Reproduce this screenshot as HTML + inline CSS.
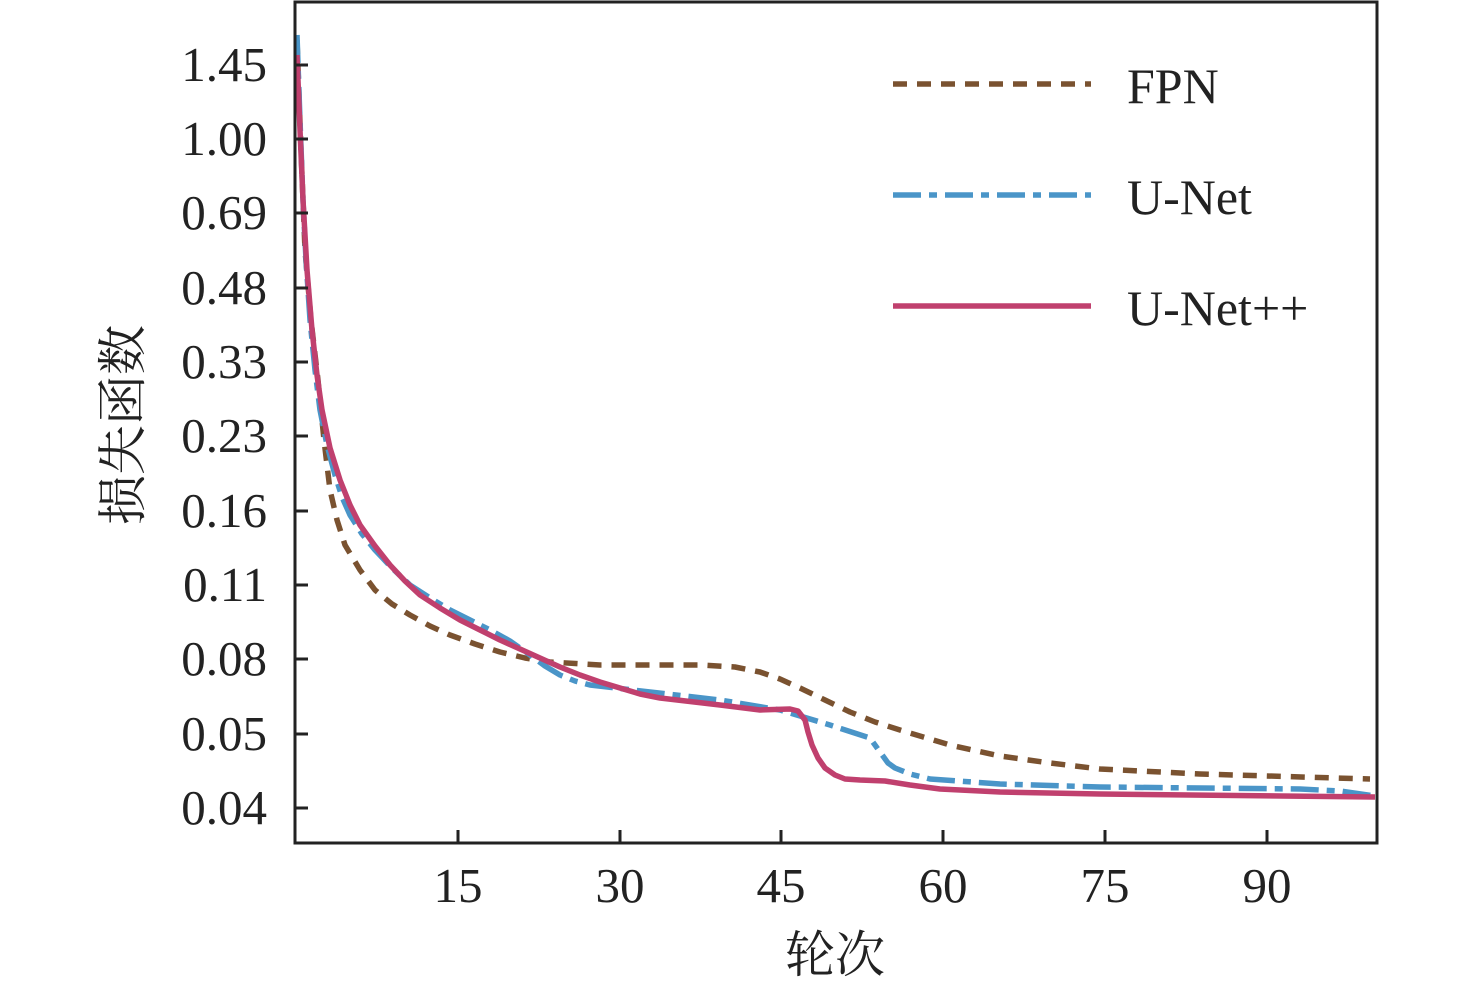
<!DOCTYPE html>
<html><head><meta charset="utf-8"><style>
html,body{margin:0;padding:0;background:#fff;}
svg{display:block;}
text{font-family:"Liberation Serif","Noto Serif CJK SC",serif;fill:#222;}
</style></head><body>
<svg width="1476" height="987" viewBox="0 0 1476 987" xmlns="http://www.w3.org/2000/svg">
<g fill="none" stroke-linejoin="round" stroke-linecap="butt">
<path stroke="#7a5230" stroke-width="5.5" stroke-dasharray="14,10" d="M297,40 L301,150 L305,250 L311,320 L318,380 L324,440 L330,490 L337,520 L345,545 L360,570 L375,590 L392,604 L410,615 L430,626 L450,635 L475,644 L500,652 L525,658 L550,662 L600,665 L700,665 L735,667 L760,672 L780,679 L800,688 L825,700 L850,712 L875,722 L900,730 L950,745 L1000,756 L1050,763 L1100,769 L1200,774 L1370,779"/>
<path stroke="#4a95c8" stroke-width="5.5" stroke-dasharray="28,8,8,8" d="M297,35 L300,120 L303,200 L306,260 L310,320 L315,370 L320,410 L327,445 L335,475 L342,497 L350,515 L362,534 L375,550 L392,568 L410,585 L430,598 L450,610 L470,620 L490,630 L510,641 L530,655 L545,666 L560,675 L575,681 L590,685 L650,692 L720,700 L780,710 L830,725 L870,738 L880,752 L888,763 L895,768 L910,774 L930,779 L1000,784 L1100,787 L1300,789 L1340,791 L1375,796"/>
<path stroke="#c0406e" stroke-width="5.5" d="M297,55 L300,130 L303,200 L307,270 L312,330 L317,375 L322,410 L330,448 L340,480 L350,505 L360,525 L375,546 L390,565 L405,581 L420,595 L440,608 L460,620 L480,630 L500,640 L520,649 L540,658 L560,667 L580,675 L600,682 L620,688 L640,694 L660,698 L720,705 L760,710 L790,709 L798,711 L805,720 L808,732 L812,745 L818,758 L825,768 L835,775 L845,779 L860,780 L885,781 L910,785 L940,789 L1000,792 L1100,794 L1375,797"/>
</g>
<rect x="295" y="2" width="1082" height="841" fill="none" stroke="#222" stroke-width="3"/>
<g stroke="#222" stroke-width="3">
<line x1="295" y1="65" x2="308" y2="65"/><line x1="295" y1="139" x2="308" y2="139"/>
<line x1="295" y1="213" x2="308" y2="213"/><line x1="295" y1="288" x2="308" y2="288"/>
<line x1="295" y1="362" x2="308" y2="362"/><line x1="295" y1="436" x2="308" y2="436"/>
<line x1="295" y1="511" x2="308" y2="511"/><line x1="295" y1="585" x2="308" y2="585"/>
<line x1="295" y1="659" x2="308" y2="659"/><line x1="295" y1="734" x2="308" y2="734"/>
<line x1="295" y1="808" x2="308" y2="808"/>
<line x1="458" y1="843" x2="458" y2="830"/><line x1="620" y1="843" x2="620" y2="830"/>
<line x1="781" y1="843" x2="781" y2="830"/><line x1="943" y1="843" x2="943" y2="830"/>
<line x1="1105" y1="843" x2="1105" y2="830"/><line x1="1267" y1="843" x2="1267" y2="830"/>
</g>
<g font-size="49" text-anchor="end">
<text x="267" y="81">1.45</text><text x="267" y="155">1.00</text><text x="267" y="229">0.69</text>
<text x="267" y="304">0.48</text><text x="267" y="378">0.33</text><text x="267" y="452">0.23</text>
<text x="267" y="527">0.16</text><text x="267" y="601">0.11</text><text x="267" y="675">0.08</text>
<text x="267" y="750">0.05</text><text x="267" y="824">0.04</text>
</g>
<g font-size="49" text-anchor="middle">
<text x="458" y="902">15</text><text x="620" y="902">30</text><text x="781" y="902">45</text>
<text x="943" y="902">60</text><text x="1105" y="902">75</text><text x="1267" y="902">90</text>
<text x="835" y="972" font-size="50">轮次</text>
<text transform="translate(140,425) rotate(-90)" font-size="50">损失函数</text>
</g>
<line x1="893" y1="84" x2="1091" y2="84" stroke="#7a5230" stroke-width="5.5" stroke-dasharray="14,10"/>
<line x1="893" y1="195" x2="1091" y2="195" stroke="#4a95c8" stroke-width="5.5" stroke-dasharray="28,8,8,8"/>
<line x1="893" y1="306" x2="1091" y2="306" stroke="#c0406e" stroke-width="5.5"/>
<g font-size="50">
<text x="1127" y="103">FPN</text><text x="1127" y="214">U-Net</text><text x="1127" y="325">U-Net++</text>
</g>
</svg>
</body></html>
